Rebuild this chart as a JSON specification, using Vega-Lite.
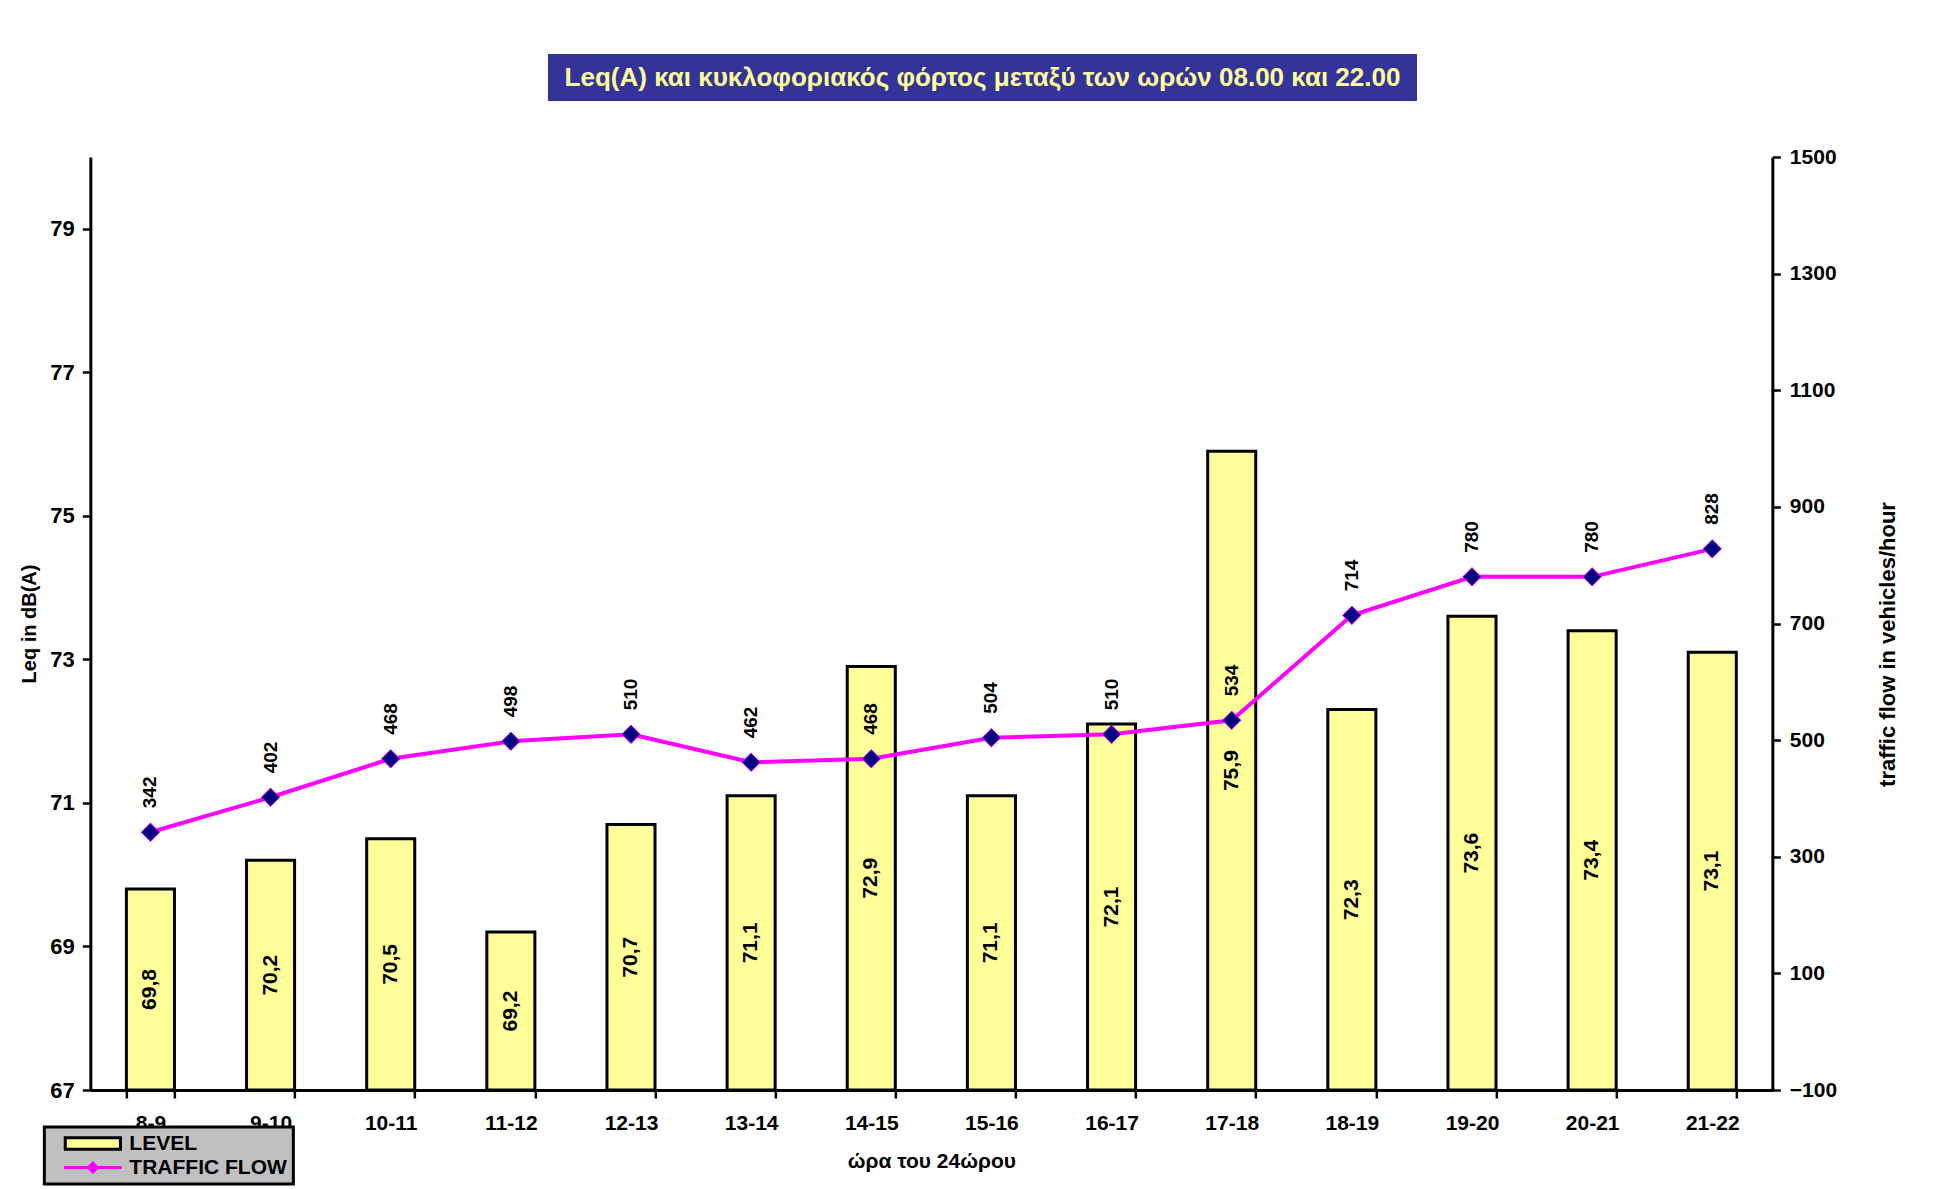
{
  "$schema": "https://vega.github.io/schema/vega-lite/v6.json",
  "background": "white",
  "padding": {"left": 19, "top": 54, "right": 10, "bottom": 0},
  "config": {
    "font": "Liberation Sans",
    "locale": {"number": {"decimal": ",", "thousands": ".", "grouping": [3], "currency": ["", " €"]}},
    "axis": {"domainColor": "black", "domainWidth": 3, "tickColor": "black", "tickWidth": 2.5, "tickSize": 8, "labelFont": "Liberation Sans", "labelFontWeight": "bold", "labelFontSize": 21, "labelColor": "black", "titleFont": "Liberation Sans", "titleFontWeight": "bold", "titleFontSize": 20, "titleColor": "black", "grid": false},
    "legend": {"orient": "none", "legendX": -46, "legendY": 970, "direction": "vertical",
      "fillColor": "#C0C0C0", "strokeColor": "black", "strokeWidth": 3, "padding": 6,
      "labelFontSize": 21, "labelFontWeight": "bold", "labelFont": "Liberation Sans", "labelColor": "black",
      "symbolSize": 144, "symbolOffset": 32, "labelOffset": 26, "rowPadding": 0, "symbolStrokeWidth": 3},
    "view": {"stroke": null}
  },
  "spacing": 45,
  "center": true,
  "resolve": {"legend": {"fill": "independent", "stroke": "independent"}},
  "vconcat": [
    {
      "spacing": 0,
      "hconcat": [
        {
          "width": 869,
          "height": 47,
          "view": {"fill": "#333399", "stroke": null},
          "data": {"values": [{}]},
          "mark": {"type": "text", "text": "Leq(A) και κυκλοφοριακός φόρτος μεταξύ των ωρών 08.00 και 22.00", "color": "#FFFF99", "font": "Liberation Sans", "fontWeight": "bold", "fontSize": 26, "align": "center", "baseline": "middle"}
        },
        {
          "width": 24,
          "height": 47,
          "data": {"values": []},
          "mark": {"type": "point"}
        }
      ]
    },
    {
      "width": 1682,
      "height": 933,
      "data": {"values": [
        {"hour": "8-9", "level": 69.8, "traffic": 342},
        {"hour": "9-10", "level": 70.2, "traffic": 402},
        {"hour": "10-11", "level": 70.5, "traffic": 468},
        {"hour": "11-12", "level": 69.2, "traffic": 498},
        {"hour": "12-13", "level": 70.7, "traffic": 510},
        {"hour": "13-14", "level": 71.1, "traffic": 462},
        {"hour": "14-15", "level": 72.9, "traffic": 468},
        {"hour": "15-16", "level": 71.1, "traffic": 504},
        {"hour": "16-17", "level": 72.1, "traffic": 510},
        {"hour": "17-18", "level": 75.9, "traffic": 534},
        {"hour": "18-19", "level": 72.3, "traffic": 714},
        {"hour": "19-20", "level": 73.6, "traffic": 780},
        {"hour": "20-21", "level": 73.4, "traffic": 780},
        {"hour": "21-22", "level": 73.1, "traffic": 828}
      ]},
      "encoding": {
        "x": {"field": "hour", "type": "ordinal", "sort": null, "title": "ώρα του 24ώρου",
          "scale": {"paddingInner": 0.6, "paddingOuter": 0.3},
          "axis": {"labelAngle": 0, "tickBand": "extent", "labelPadding": 14, "titlePadding": 17, "titleFontSize": 21}}
      },
      "layer": [
        {
          "mark": {"type": "bar", "stroke": "black", "strokeWidth": 3},
          "encoding": {
            "y": {"field": "level", "type": "quantitative", "title": "Leq in dB(A)",
              "scale": {"domain": [67, 80], "nice": false, "zero": false},
              "axis": {"values": [67, 69, 71, 73, 75, 77, 79], "format": "d", "labelPadding": 8, "titlePadding": 10, "labelFontSize": 22}},
            "y2": {"datum": 67},
            "fill": {"datum": "LEVEL",
              "scale": {"domain": ["LEVEL", "TRAFFIC FLOW"], "range": ["#FFFF99", "#000080"]},
              "legend": {"title": null,
                "encode": {
                  "symbols": {"update": {
                    "shape": [{"test": "datum.value === 'LEVEL'", "value": "M-4.6,-0.95H4.6V0.95H-4.6Z"}, {"value": "M-4.8,0H4.8M0,-0.75L0.75,0L0,0.75L-0.75,0Z"}],
                    "strokeWidth": {"value": 3},
                    "opacity": {"value": 1}
                  }}
                }}
            }
          }
        },
        {
          "mark": {"type": "text", "angle": 270, "fontWeight": "bold", "fontSize": 21, "color": "black", "align": "center", "baseline": "middle"},
          "encoding": {
            "y": {"field": "level", "type": "quantitative", "scale": {"domain": [67, 93], "nice": false, "zero": false}, "axis": null},
            "text": {"field": "level", "type": "quantitative", "format": ".1f"}
          }
        },
        {
          "encoding": {
            "y": {"field": "traffic", "type": "quantitative", "title": "traffic flow in vehicles/hour",
              "scale": {"domain": [-100, 1500], "nice": false, "zero": false},
              "axis": {"orient": "right", "values": [-100, 100, 300, 500, 700, 900, 1100, 1300, 1500], "format": "d", "labelPadding": 9, "titlePadding": 41, "titleAngle": 270, "titleBaseline": "top", "titleFontSize": 22, "titleY": 487}}
          },
          "layer": [
            {"mark": {"type": "line", "strokeWidth": 4}, "encoding": {"stroke": {"datum": "TRAFFIC FLOW",
              "scale": {"domain": ["LEVEL", "TRAFFIC FLOW"], "range": ["black", "#FF00FF"]},
              "legend": {"title": null,
                "encode": {
                  "symbols": {"update": {
                    "shape": [{"test": "datum.value === 'LEVEL'", "value": "M-4.6,-0.95H4.6V0.95H-4.6Z"}, {"value": "M-4.8,0H4.8M0,-0.75L0.75,0L0,0.75L-0.75,0Z"}],
                    "strokeWidth": {"value": 3},
                    "opacity": {"value": 1}
                  }}
                }}}}},
            {"mark": {"type": "point", "shape": "diamond", "filled": true, "size": 340, "color": "#000080", "stroke": "#FF00FF", "strokeWidth": 1, "opacity": 1}, "encoding": {}},
            {"mark": {"type": "text", "angle": 270, "align": "left", "baseline": "middle", "dx": 24, "fontWeight": "bold", "fontSize": 19, "color": "black"},
              "encoding": {"text": {"field": "traffic", "type": "quantitative", "format": "d"}}}
          ]
        }
      ],
      "resolve": {"scale": {"y": "independent"}}
    }
  ]
}
